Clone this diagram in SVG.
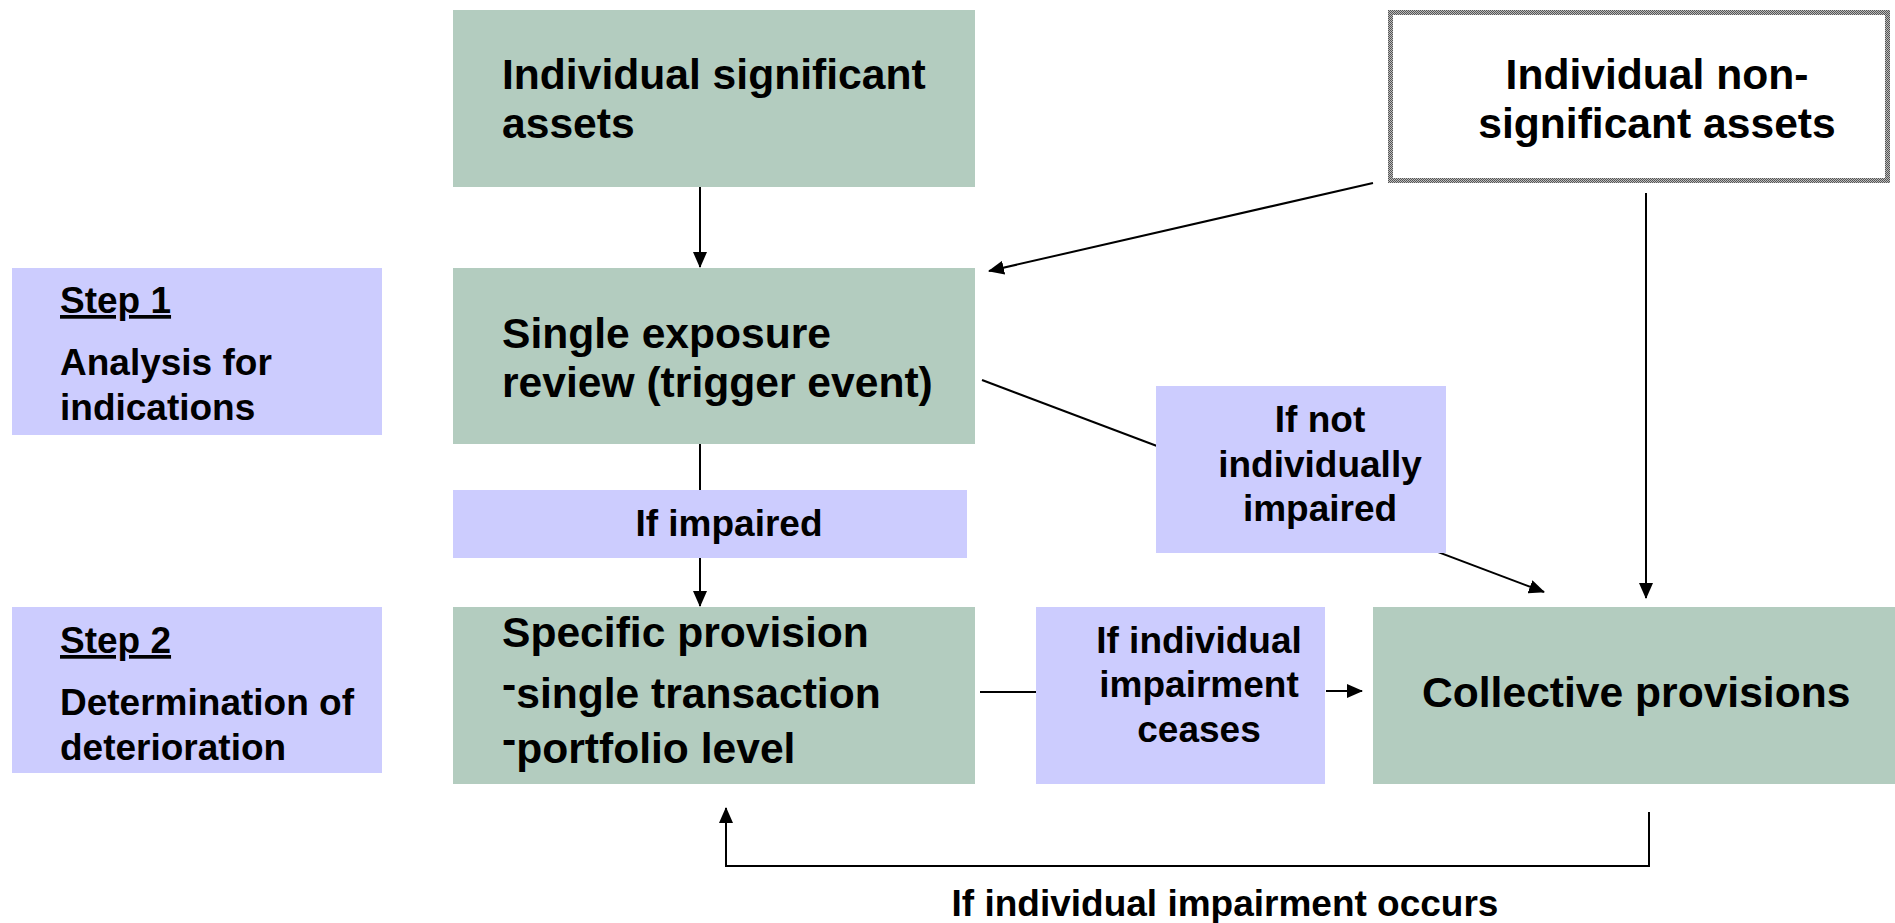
<svg xmlns="http://www.w3.org/2000/svg" width="1895" height="923" viewBox="0 0 1895 923">
<style>
.g{fill:#b3ccbf}
.p{fill:#ccccfe}
.t{font-family:"Liberation Sans",Arial,sans-serif;font-weight:bold;fill:#000}
.big{font-size:42.6px}
.sm{font-size:37px}
.c{text-anchor:middle}
.ln{stroke:#000;stroke-width:2;fill:none}
</style>
<defs>
<marker id="ah" markerUnits="userSpaceOnUse" markerWidth="16" markerHeight="14" refX="15" refY="7" orient="auto">
<path d="M0,0 L16,7 L0,14 Z" fill="#000"/>
</marker>
<pattern id="chk" width="2" height="2" patternUnits="userSpaceOnUse">
<rect width="2" height="2" fill="#bbb"/>
<rect width="1" height="1" fill="#555"/>
<rect x="1" y="1" width="1" height="1" fill="#555"/>
</pattern>
</defs>
<rect width="1895" height="923" fill="#fff"/>

<g id="connectors">
<line class="ln" x1="700" y1="187" x2="700" y2="267" marker-end="url(#ah)"/>
<line class="ln" x1="1373" y1="183" x2="989" y2="271" marker-end="url(#ah)"/>
<line class="ln" x1="700" y1="444" x2="700" y2="490"/>
<line class="ln" x1="700" y1="558" x2="700" y2="606" marker-end="url(#ah)"/>
<line class="ln" x1="982" y1="380" x2="1544" y2="592" marker-end="url(#ah)"/>
<line class="ln" x1="1646" y1="193" x2="1646" y2="598" marker-end="url(#ah)"/>
<line class="ln" x1="980" y1="692" x2="1036" y2="692"/>
<line class="ln" x1="1326" y1="691" x2="1362" y2="691" marker-end="url(#ah)"/>
<polyline class="ln" stroke-width="2.5" points="1649,812 1649,866 726,866 726,808" marker-end="url(#ah)"/>
</g>

<g id="step1">
<rect class="p" x="12" y="268" width="370" height="167"/>
<text class="t sm" x="60" y="313" text-decoration="underline">Step 1</text>
<text class="t sm" x="60" y="375">Analysis for</text>
<text class="t sm" x="60" y="420">indications</text>
</g>

<g id="step2">
<rect class="p" x="12" y="607" width="370" height="166"/>
<text class="t sm" x="60" y="653" text-decoration="underline">Step 2</text>
<text class="t sm" x="60" y="715">Determination of</text>
<text class="t sm" x="60" y="760">deterioration</text>
</g>

<g id="significant">
<rect class="g" x="453" y="10" width="522" height="177"/>
<text class="t big" x="502" y="89">Individual significant</text>
<text class="t big" x="502" y="138">assets</text>
</g>

<g id="nonsignificant">
<rect x="1390.5" y="12.5" width="497" height="168" fill="#fff" stroke="url(#chk)" stroke-width="5"/>
<text class="t big c" x="1657" y="89">Individual non-</text>
<text class="t big c" x="1657" y="138">significant assets</text>
</g>

<g id="single">
<rect class="g" x="453" y="268" width="522" height="176"/>
<text class="t big" x="502" y="348">Single exposure</text>
<text class="t big" x="502" y="397">review (trigger event)</text>
</g>

<g id="ifimpaired">
<rect class="p" x="453" y="490" width="514" height="68"/>
<text class="t sm c" x="729" y="536">If impaired</text>
</g>

<g id="ifnot">
<rect class="p" x="1156" y="386" width="290" height="167"/>
<text class="t sm c" x="1320" y="432">If not</text>
<text class="t sm c" x="1320" y="477">individually</text>
<text class="t sm c" x="1320" y="521">impaired</text>
</g>

<g id="specific">
<rect class="g" x="453" y="607" width="522" height="177"/>
<text class="t big" x="502" y="647">Specific provision</text>
<text class="t big" x="502" y="708"><tspan dy="-9">-</tspan><tspan dy="9">single transaction</tspan></text>
<text class="t big" x="502" y="763"><tspan dy="-9">-</tspan><tspan dy="9">portfolio level</tspan></text>
</g>

<g id="ceases">
<rect class="p" x="1036" y="607" width="289" height="177"/>
<text class="t sm c" x="1199" y="653">If individual</text>
<text class="t sm c" x="1199" y="697">impairment</text>
<text class="t sm c" x="1199" y="742">ceases</text>
</g>

<g id="collective">
<rect class="g" x="1373" y="607" width="522" height="177"/>
<text class="t big" x="1422" y="707">Collective provisions</text>
</g>

<g id="occurs">
<text class="t sm c" x="1225" y="916">If individual impairment occurs</text>
</g>
</svg>
